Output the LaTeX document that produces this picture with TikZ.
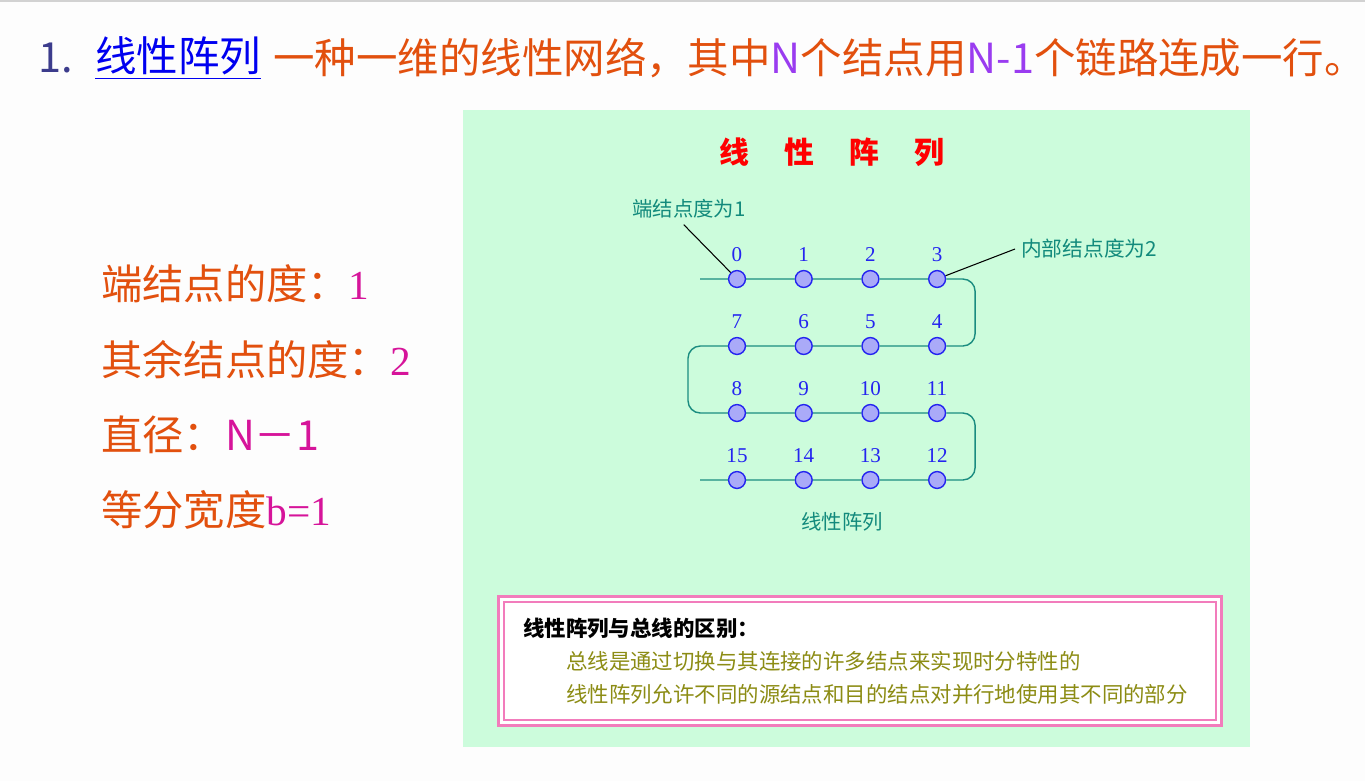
\documentclass[tikz,border=0pt]{standalone}
\usepackage{fontspec}
\setmainfont{Liberation Serif}
\newfontfamily\cjk{Noto Sans CJK SC}
\usetikzlibrary{calc}
\definecolor{Paper}{HTML}{FDFDFD}
\definecolor{Mint}{HTML}{CCFCDC}
\definecolor{NumBlue}{HTML}{3C3C8C}
\definecolor{LinkBlue}{HTML}{0000F0}
\definecolor{Orange}{HTML}{E2500E}
\definecolor{Violet}{HTML}{9A3CF0}
\definecolor{Magenta}{HTML}{D6149A}
\definecolor{Wire}{HTML}{1A8C80}
\definecolor{PeEdge}{HTML}{2424F0}
\definecolor{PeFill}{HTML}{AAAAF8}
\definecolor{Note}{HTML}{128A7C}
\definecolor{Pink}{HTML}{F27CBC}
\definecolor{Olive}{HTML}{8C8C14}

\begin{document}
\begin{tikzpicture}[x=0.02cm,y=-0.02cm]
    \useasboundingbox (0,0) rectangle (1365,781);
    \fill[Paper] (0,0) rectangle (1365,781);
    \fill[gray!35] (0,0) rectangle (1365,2);
    % heading
    \node[anchor=west,text=NumBlue,font=\cjk\fontsize{23.6pt}{26pt}\selectfont] (num) at (32,58) {1.};
    \node[anchor=west,text=LinkBlue,font=\cjk\fontsize{23.6pt}{26pt}\selectfont] (link) at (89,58) {\underline{线性阵列}};
    \node[anchor=west,inner sep=0pt,text=Orange,font=\cjk\fontsize{23.6pt}{26pt}\selectfont] (desc) at (273,58) {一种一维的线性网络，其中{\color{Violet}N}个结点用{\color{Violet}N-1}个链路连成一行。};
    % properties
    \node[anchor=west,text=Orange,font=\cjk\fontsize{23.5pt}{26pt}\selectfont] (p1) at (95,284) {端结点的度：{\rmfamily\color{Magenta}1}};
    \node[anchor=west,text=Orange,font=\cjk\fontsize{23.5pt}{26pt}\selectfont] (p2) at (95,360) {其余结点的度：{\rmfamily\color{Magenta}2}};
    \node[anchor=west,text=Orange,font=\cjk\fontsize{23.5pt}{26pt}\selectfont] (p3) at (95,435) {直径：{\color{Magenta}N－1}};
    \node[anchor=west,text=Orange,font=\cjk\fontsize{23.5pt}{26pt}\selectfont] (p4) at (95,510) {等分宽度{\rmfamily\color{Magenta}b=1}};
    % panel
    \fill[Mint] (463,110) rectangle (1250,747);
    \node[text=red,font=\cjk\bfseries\fontsize{17pt}{20pt}\selectfont] (head) at (832,152) {线\hspace{20pt}性\hspace{20pt}阵\hspace{20pt}列};
    \foreach \i in {0,...,15} {
      \pgfmathtruncatemacro\r{\i/4}
      \pgfmathtruncatemacro\k{mod(\i,4)}
      \pgfmathtruncatemacro\c{ifthenelse(mod(\r,2)==0,\k,3-\k)}
      \node[circle,draw=PeEdge,fill=PeFill,line width=0.8pt,minimum size=9.6pt,inner sep=0pt,
            label={[text=PeEdge,font=\fontsize{12pt}{14pt}\selectfont,inner sep=1pt,label distance=3.5pt]above:\i}]
            (n\i) at ({737+66.7*\c},{279+67*\r}) {};
    }
    \coordinate (start) at (700,279);
    \coordinate (stop) at (700,480);
    \draw[Wire,line width=0.8pt,rounded corners=7pt] (start) -- (n0) -- (n1) -- (n2) -- (n3) -- ++(38,0) |- (n4)
      -- (n5) -- (n6) -- (n7) -- ++(-49,0) |- (n8) -- (n9) -- (n10) -- (n11) -- ++(38,0) |- (n12)
      -- (n13) -- (n14) -- (n15) -- (stop);
    \node[text=Note,font=\cjk\fontsize{11.6pt}{14pt}\selectfont] (endlbl) at (689,209) {端结点度为1};
    \node[anchor=west,text=Note,font=\cjk\fontsize{11.8pt}{14pt}\selectfont] (intlbl) at (1015,249) {内部结点度为2};
    \draw[black,line width=0.6pt] ([xshift=-3pt]endlbl.south) -- (n0);
    \draw[black,line width=0.6pt] (intlbl.west) -- (n3);
    \node[text=Note,font=\cjk\fontsize{11.6pt}{14pt}\selectfont] (cap) at (842,522) {线性阵列};
    % difference box
    \draw[fill=white,draw=Pink,line width=1.7pt] (498.5,596.5) rectangle (1221.5,725.5);
    \draw[draw=Pink,line width=0.6pt] (504,602) rectangle (1216,720);
    \node[anchor=west,font=\cjk\bfseries\fontsize{12.2pt}{14pt}\selectfont] (diff) at (517,628) {线性阵列与总线的区别：};
    \node[anchor=west,text=Olive,font=\cjk\fontsize{12.2pt}{14pt}\selectfont] (bus) at (560,661) {总线是通过切换与其连接的许多结点来实现时分特性的};
    \node[anchor=west,text=Olive,font=\cjk\fontsize{12.2pt}{14pt}\selectfont] (arr) at (560,694) {线性阵列允许不同的源结点和目的结点对并行地使用其不同的部分};
  \end{tikzpicture}
\end{document}
